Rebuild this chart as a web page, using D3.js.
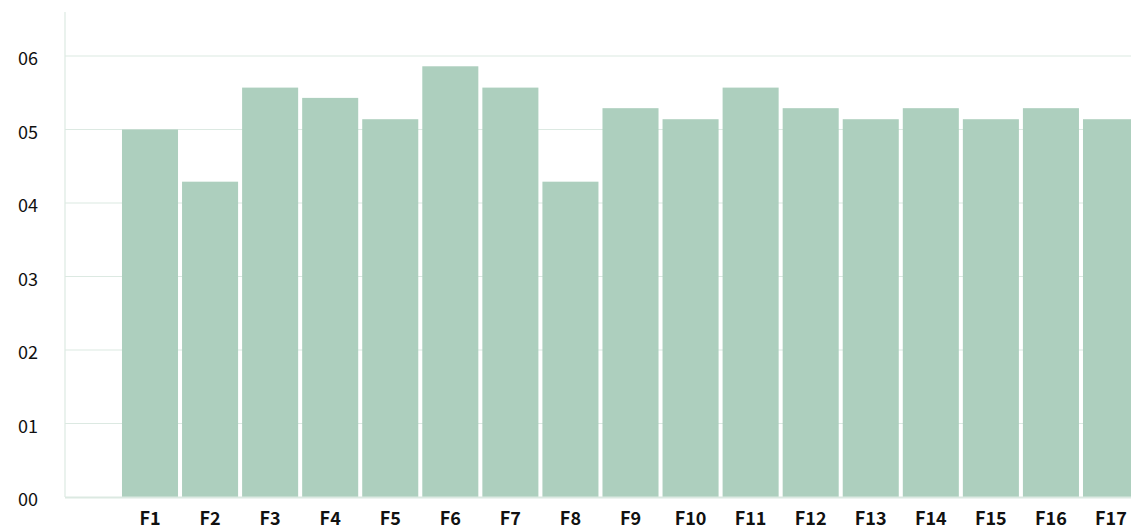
<!DOCTYPE html>
<html lang="en">
<head>
<meta charset="UTF-8">
<title>Bars</title>
<script src="https://d3js.org/d3.v7.min.js"></script>
<style>
    body { margin: 0; background: #fff; }
    text { font-family: "Noto Sans CJK JP", "Noto Sans", sans-serif; fill: #111; }
</style>
</head>
<body>
<script>
    var width = 1131,
        height = 529;

    var categories = ["F1", "F2", "F3", "F4", "F5", "F6", "F7", "F8", "F9",
        "F10", "F11", "F12", "F13", "F14", "F15", "F16", "F17"];
    var values = [5.0, 4.29, 5.57, 5.43, 5.14, 5.86, 5.57, 4.29, 5.29,
        5.14, 5.57, 5.29, 5.14, 5.29, 5.14, 5.29, 5.14];
    var yTicks = [0, 1, 2, 3, 4, 5, 6];

    var svg = d3.select("body").append("svg")
        .attr("width", width)
        .attr("height", height);

    var x = d3.scaleBand()
        .domain(categories)
        .range([120, 1141])
        .paddingInner(0.067)
        .paddingOuter(0.033);

    var y = d3.scaleLinear()
        .domain([0, 6])
        .range([497, 56]);

    // grid
    svg.append("g")
        .selectAll("line")
        .data(yTicks.slice(1))
        .enter().append("line")
        .attr("x1", 65)
        .attr("x2", width)
        .attr("y1", function(d) { return y(d); })
        .attr("y2", function(d) { return y(d); })
        .attr("stroke", "#dce9e2")
        .attr("stroke-width", 1.2);

    svg.append("line")
        .attr("x1", 65).attr("x2", 65)
        .attr("y1", 12).attr("y2", y(0))
        .attr("stroke", "#dce9e2")
        .attr("stroke-width", 1.2);

    svg.append("g")
        .selectAll("rect")
        .data(values)
        .enter().append("rect")
        .attr("x", function(d, i) { return x(categories[i]); })
        .attr("width", x.bandwidth())
        .attr("y", function(d) { return y(d); })
        .attr("height", function(d) { return y(0) - y(d); })
        .attr("fill", "#adcfbe");

    svg.append("line")
        .attr("x1", 65).attr("x2", width)
        .attr("y1", y(0) + 0.5).attr("y2", y(0) + 0.5)
        .attr("stroke", "#dce9e2")
        .attr("stroke-width", 2);

    var fmt = d3.format("02d");
    svg.append("g")
        .selectAll("text")
        .data(yTicks)
        .enter().append("text")
        .attr("x", 38)
        .attr("y", function(d) { return y(d); })
        .attr("dy", "0.5em")
        .attr("text-anchor", "end")
        .style("font-size", "18px")
        .text(function(d) { return fmt(d); });

    svg.append("g")
        .selectAll("text")
        .data(categories)
        .enter().append("text")
        .attr("x", function(d) { return x(d) + x.bandwidth() / 2; })
        .attr("y", 525)
        .attr("text-anchor", "middle")
        .style("font-size", "18px")
        .style("font-weight", "700")
        .text(function(d) { return d; });
</script>
</body>
</html>
